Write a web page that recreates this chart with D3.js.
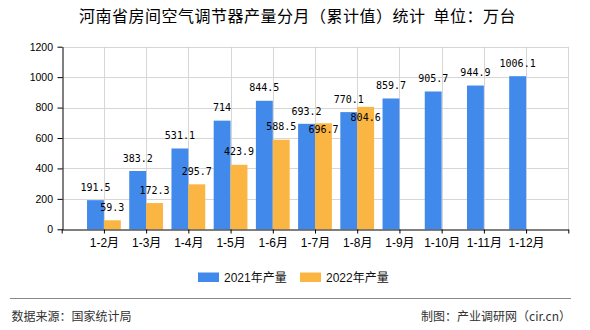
<!DOCTYPE html>
<html><head><meta charset="utf-8">
<script src="https://cdn.jsdelivr.net/npm/d3@7"></script>
<style>body{margin:0;background:#fff}svg{display:block}</style>
</head><body>
<script>
const categories = ["1-2月","1-3月","1-4月","1-5月","1-6月","1-7月","1-8月","1-9月","1-10月","1-11月","1-12月"];
const series2021 = [191.5,383.2,531.1,714,844.5,693.2,770.1,859.7,905.7,944.9,1006.1];
const series2022 = [59.3,172.3,295.7,423.9,588.5,696.7,804.6,null,null,null,null];
const seriesNames = ["2021年产量","2022年产量"];
const yTicks = [0,200,400,600,800,1000,1200];
const title = "河南省房间空气调节器产量分月（累计值）统计\u00a0\u00a0单位：万台";
const source = "数据来源：国家统计局";
const credit = "制图：产业调研网（cir.cn）";

(function(){
const W=590,H=330;
const colors=["#4189ea","#fbb542"];
const svg=d3.select("body").append("svg").attr("width",W).attr("height",H);
const cjk="'Microsoft YaHei','Noto Sans CJK SC',sans-serif";
const pL=61.7,pR=568.3,pT=46.7,pB=229.3;

const x=d3.scalePoint().domain(["_s",...categories,"_e"]).range([pL,pR]);
const step=x.step();
const y=d3.scaleLinear().domain([0,1200]).range([pB,pT]);

svg.append("text").attr("x",297.5).attr("y",21.5).attr("text-anchor","middle")
  .style("font-family",cjk).style("font-size","16px").style("letter-spacing","0.5px").attr("fill","#000").text(title);

const g=svg.append("g");
g.selectAll(".hg").data(yTicks.slice(1)).join("line").attr("x1",pL).attr("x2",pR)
  .attr("y1",d=>Math.round(y(d))+0.5).attr("y2",d=>Math.round(y(d))+0.5).attr("stroke","#d6d6d6");
g.selectAll(".vg").data(x.domain().slice(1)).join("line").attr("y1",pT).attr("y2",pB)
  .attr("x1",d=>Math.round(x(d))+0.5).attr("x2",d=>Math.round(x(d))+0.5).attr("stroke","#d6d6d6");

const bw=step*0.4;
[0,1].forEach(s=>{
  const arr=s===0?series2021:series2022;
  svg.append("g").selectAll("rect").data(categories.map((c,i)=>({c,v:arr[i]})).filter(d=>d.v!=null)).join("rect")
    .attr("x",d=>x(d.c)-(s===0?bw:0)).attr("width",bw)
    .attr("y",d=>y(d.v)).attr("height",d=>pB-y(d.v)).attr("fill",colors[s]);
});

const yAx=svg.append("g").attr("transform",`translate(${Math.round(pL)+0.5},0)`)
  .call(d3.axisLeft(y).tickValues(yTicks).tickFormat(d3.format("d")).tickSize(5).tickSizeOuter(0));
yAx.select(".domain").attr("stroke","#000");
yAx.selectAll(".tick line").attr("stroke","#000");
yAx.selectAll("text").style("font-family","'Liberation Sans',Arial,sans-serif").style("font-size","10.5px").attr("fill","#000").attr("x",-9.5);

const xAx=svg.append("g").attr("transform",`translate(0,${Math.round(pB)+0.5})`)
  .call(d3.axisBottom(x).tickSize(4).tickSizeOuter(0).tickFormat(d=>d.startsWith("_")?"":d));
xAx.select(".domain").attr("stroke","#000");
xAx.selectAll(".tick line").attr("stroke","#000");
xAx.selectAll("text").style("font-family","'Liberation Sans',"+cjk).style("font-size","12px").attr("fill","#000").attr("y",9);

const lf="'DejaVu Sans Mono',monospace";
const labels=[];
categories.forEach((c,i)=>{
  const bx=x(c)-bw/2, by=y(series2021[i])-9.3;
  labels.push({x:bx,y:by,t:String(series2021[i])});
  if(series2022[i]!=null){
    let oy=y(series2022[i])-9.3;
    if(Math.abs(oy-by)<14) oy=by+18;
    labels.push({x:x(c)+bw/2,y:oy,t:String(series2022[i])});
  }
});
svg.append("g").selectAll("text").data(labels).join("text")
  .attr("x",d=>d.x).attr("y",d=>d.y).attr("text-anchor","middle")
  .style("font-family",lf).style("font-size","10px").attr("fill","#000").text(d=>d.t);

const lg=svg.append("g");
const legX=[198,300];
seriesNames.forEach((n,i)=>{
  lg.append("rect").attr("x",legX[i]).attr("y",272.5).attr("width",21).attr("height",9.5).attr("fill",colors[i]);
  lg.append("text").attr("x",legX[i]+26).attr("y",281.5).style("font-family","'Liberation Sans',"+cjk)
    .style("font-size","12px").attr("fill","#111").text(n);
});

svg.append("line").attr("x1",10).attr("x2",571).attr("y1",298.5).attr("y2",298.5).attr("stroke","#888").attr("stroke-width",1.2);
svg.append("text").attr("x",11.5).attr("y",321).style("font-family",cjk).style("font-size","12px").attr("fill","#333").text(source);
svg.append("text").attr("x",571).attr("y",321).attr("text-anchor","end").style("font-family",cjk).style("font-size","12px").attr("fill","#333").text(credit);
})();
</script>
</body></html>
